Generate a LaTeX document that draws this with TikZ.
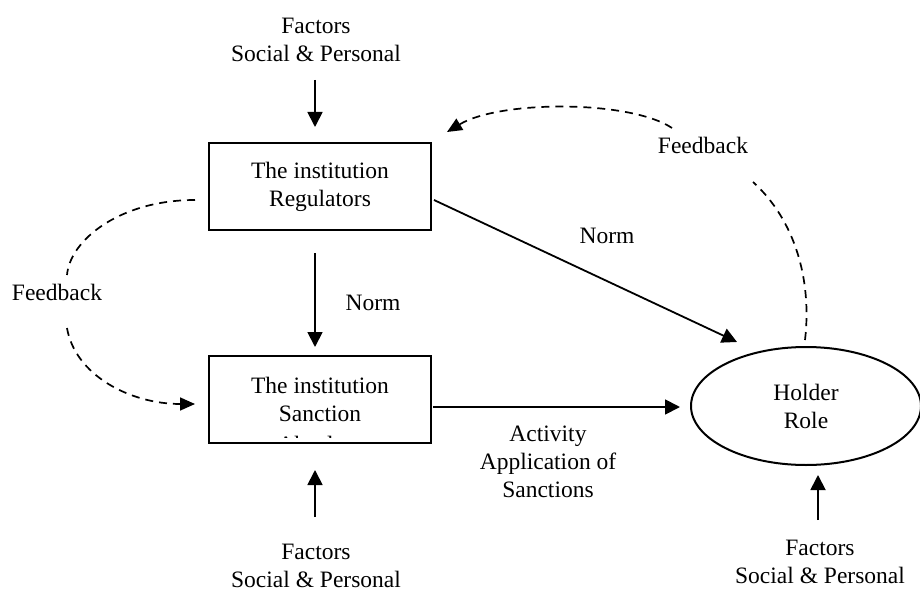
\documentclass[tikz,border=0pt]{standalone}
\usepackage{fontspec}
\setmainfont{Liberation Serif}
\usetikzlibrary{arrows.meta,shapes.geometric}
\begin{document}
\begin{tikzpicture}[x=1pt,y=-1pt,
  every node/.style={font=\fontsize{23.5}{28}\selectfont, inner sep=0pt, align=center},
  boxnode/.style={draw, line width=2pt, minimum width=222pt, minimum height=87pt},
  ellnode/.style={draw, ellipse, line width=2pt, minimum width=230pt, minimum height=118pt},
  arr/.style={line width=1.8pt, -{Triangle[length=15pt,width=15pt]}},
  dasharr/.style={line width=1.7pt, dash pattern=on 8pt off 6pt, -{Triangle[length=15pt,width=13pt]}},
  dashline/.style={line width=1.7pt, dash pattern=on 8pt off 6pt}
]
\useasboundingbox (0,0) rectangle (920,591);

% nodes
\node (ftop) at (316,39.5) {Factors\\Social \& Personal};
\node[boxnode] (R) at (320,186.5) {The institution\\Regulators};
\node[boxnode] (S) at (320,399.5) {The institution\\Sanction};
\begin{scope}
  \clip (209,356) rectangle (431,437);
  \node[anchor=base] (absl) at (320,452) {Absolute};
\end{scope}
\node[ellnode] (H) at (806,406) {Holder\\Role};
\node (fbot) at (316,566) {Factors\\Social \& Personal};
\node (frt) at (820,561.5) {Factors\\Social \& Personal};
\node (nv) at (373,303) {Norm};
\node (nd) at (607,236) {Norm};
\node (act) at (548,462) {Activity\\Application of\\Sanctions};
\node (fbl) at (57,292) {Feedback};
\node (fbr) at (703,145) {Feedback};

% coordinates for free ends
\coordinate (t1) at (315,80);
\coordinate (t1e) at (315,127);
\coordinate (b1) at (315,517);
\coordinate (b1e) at (315,470);
\coordinate (r1) at (818,520);
\coordinate (r1e) at (818,475);
\coordinate (n1s) at (315,253);
\coordinate (n1e) at (315,347);
\coordinate (n2s) at (434,200);
\coordinate (n2e) at (737,342);
\coordinate (as) at (433,407);
\coordinate (ae) at (680,407);
\coordinate (lf1) at (195,200);
\coordinate (lf2) at (67,275);
\coordinate (lf3) at (67,328);
\coordinate (lf4) at (195,404);
\coordinate (rf1) at (805,340);
\coordinate (rf2) at (753,182);
\coordinate (tf1) at (672,128);
\coordinate (tf2) at (447,132);

% solid arrows
\draw[arr] (t1) -- (t1e);
\draw[arr] (b1) -- (b1e);
\draw[arr] (r1) -- (r1e);
\draw[arr] (n1s) -- (n1e);
\draw[arr] (n2s) -- (n2e);
\draw[arr] (as) -- (ae);

% dashed feedback
\draw[dashline] (lf1) .. controls (120,200) and (70,240) .. (lf2);
\draw[dasharr] (lf3) .. controls (75,375) and (130,404) .. (lf4);
\draw[dashline] (rf1) .. controls (812,280) and (795,220) .. (rf2);
\draw[dasharr] (tf1) .. controls (630,100) and (500,100) .. (tf2);
\end{tikzpicture}
\end{document}
